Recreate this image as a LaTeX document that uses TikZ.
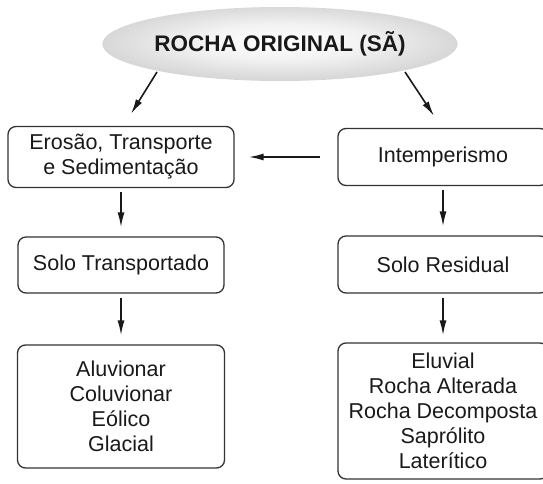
\documentclass[tikz,border=0pt]{standalone}
\usepackage{fontspec}
\setmainfont{Liberation Sans}
\usetikzlibrary{shapes.geometric,arrows.meta}

% fundo cinzento da elipse
\pgfdeclareradialshading{rochafundo}{\pgfpoint{0bp}{2bp}}{%
    color(0bp)=(white); color(12bp)=(white!95!black); color(50bp)=(black!36)}

\begin{document}
\begin{tikzpicture}[
        x=1pt, y=1pt,
        box/.style={rectangle, draw=black!80, line width=1.3pt, rounded corners=8pt,
            align=center, text=black!90, inner sep=0pt,
            font=\fontsize{21.5}{25}\selectfont},
        topo/.style={ellipse, shading=rochafundo,
            minimum width=315pt, minimum height=74pt, inner sep=0pt,
            text=black!90, font=\fontsize{22.5}{25}\selectfont\bfseries},
        arrow/.style={-{Latex[length=15pt,width=7pt]}, line width=1.6pt, black!90}
    ]
    \useasboundingbox (0,0) rectangle (543,483);

    % Rocha de origem
    \node[topo] (rocha) at (280,439) {ROCHA ORIGINAL (SÃ)};

    % Ramo transportado
    \node[box, minimum width=226pt, minimum height=61pt] (erosao) at (121,326)
        {Erosão, Transporte\\e Sedimentação};
    \node[box, minimum width=206pt, minimum height=56pt, below of=erosao, node distance=108pt]
        (transp) {Solo Transportado};
    \node[box, minimum width=207pt, minimum height=123pt, below of=transp, node distance=141.5pt]
        (tiposT) {Aluvionar\\Coluvionar\\Eólico\\Glacial};

    % Ramo residual
    \node[box, minimum width=210pt, minimum height=57pt] (intemp) at (443,326) {Intemperismo};
    \node[box, minimum width=210pt, minimum height=57pt, below of=intemp, node distance=107.5pt]
        (resid) {Solo Residual};
    \node[box, minimum width=210pt, minimum height=136pt, below of=resid, node distance=146.5pt]
        (tiposR) {Eluvial\\Rocha Alterada\\Rocha Decomposta\\Saprólito\\Laterítico};

    % Setas
    \draw[arrow] ([xshift=-123pt,yshift=-28pt]rocha.center) -- ([xshift=10pt,yshift=12pt]erosao.north);
    \draw[arrow] ([xshift=125pt,yshift=-28pt]rocha.center) -- ([xshift=-9pt,yshift=12pt]intemp.north);
    \draw[arrow, shorten <=17pt, shorten >=14pt] (intemp.west) -- (erosao.east);
    \draw[arrow, shorten <=4pt, shorten >=9pt] (erosao) -- (transp);
    \draw[arrow, shorten <=4pt, shorten >=9pt] (transp) -- (tiposT);
    \draw[arrow, shorten <=4pt, shorten >=9pt] (intemp) -- (resid);
    \draw[arrow, shorten <=4pt, shorten >=7pt] (resid) -- (tiposR);

    \end{tikzpicture}
\end{document}
